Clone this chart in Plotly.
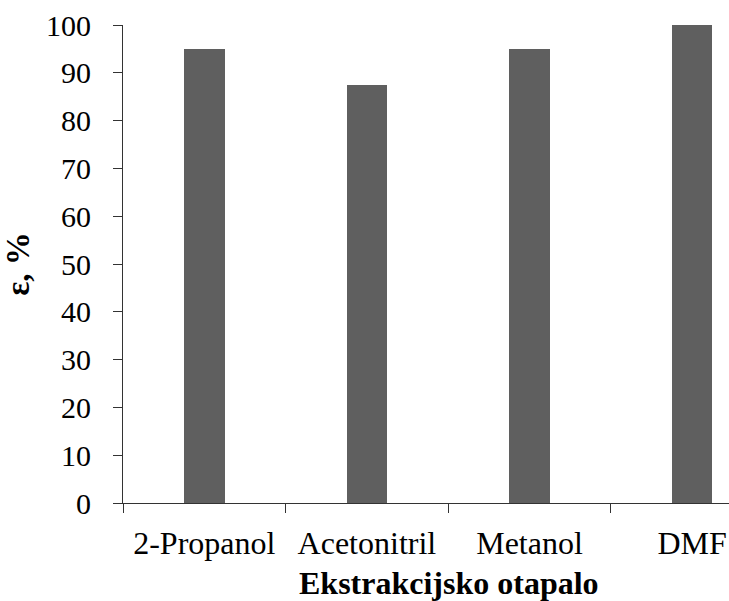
import plotly.graph_objects as go

categories = ["2-Propanol", "Acetonitril", "Metanol", "DMF"]
values = [95.0, 87.5, 95.0, 100.0]
y_ticks = list(range(0, 101, 10))
x_title = "<b>Ekstrakcijsko otapalo</b>"
y_title = "<b>ε, %</b>"

FONT = "Liberation Serif"

fig = go.Figure()
fig.add_trace(go.Bar(
    x=categories, y=values, width=0.25,
    marker=dict(color="#5f5f5f", line=dict(width=0)),
))

fig.update_layout(
    width=729, height=601,
    margin=dict(l=123, r=0, t=25, b=98, pad=0),
    paper_bgcolor="white", plot_bgcolor="white",
    font=dict(family=FONT, size=30, color="black"),
    showlegend=False,
    bargap=0,
)
fig.update_xaxes(
    type="category", automargin=False,
    range=[-0.5, 3.227],
    showline=True, linecolor="#333333", linewidth=1,
    ticks="outside", tickson="boundaries", ticklen=9, tickcolor="#333333",
    showgrid=False, zeroline=False,
    tickfont=dict(family=FONT, size=32),
    ticklabelstandoff=12,
)
fig.update_yaxes(
    automargin=False,
    range=[0, 100], tickvals=y_ticks,
    showline=True, linecolor="#333333", linewidth=1,
    ticks="outside", ticklen=9, tickcolor="#333333",
    showgrid=False, zeroline=False,
    tickfont=dict(family=FONT, size=30),
    ticklabelstandoff=16,
    title=dict(text=y_title, font=dict(family=FONT, size=33), standoff=12),
)
fig.add_annotation(
    text=x_title, xref="paper", yref="paper", x=0.538, y=-0.167,
    xanchor="center", yanchor="middle", showarrow=False,
    font=dict(family=FONT, size=32, color="black"),
)

fig.write_html("out.html", config={"displayModeBar": False},
               post_script="document.body.style.margin='0';")
